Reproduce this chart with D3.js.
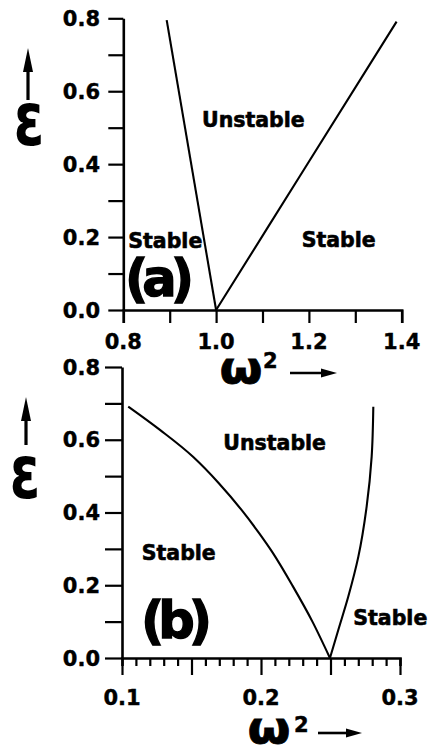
<!DOCTYPE html>
<html>
<head>
<meta charset="utf-8">
<script src="https://cdn.jsdelivr.net/npm/d3@7"></script>
<style>
  html, body { margin: 0; padding: 0; background: #fff; }
  svg { display: block; }
  text { font-family: "DejaVu Sans", sans-serif; font-weight: bold; fill: #000; }
</style>
</head>
<body>
<svg id="chart" width="431" height="752"></svg>
<script>
// ---- data ----
// Panel (a): transition curves in the (omega^2, epsilon) plane
const aLeftBoundary  = [[0.8935, 0.795], [1.0, 0.0]];
const aRightBoundary = [[1.0, 0.0], [1.18, 0.366], [1.389, 0.791]];
// Panel (b)
const bLeftBoundary  = [[0.1045, 0.691], [0.1273, 0.627], [0.1511, 0.553], [0.1695, 0.481],
                        [0.1860, 0.407], [0.1985, 0.344], [0.2085, 0.289], [0.2225, 0.200],
                        [0.2370, 0.100], [0.2496, 0.0]];
const bRightBoundary = [[0.2496, 0.0], [0.2556, 0.077], [0.2628, 0.169], [0.2700, 0.278],
                        [0.2760, 0.416], [0.2796, 0.553], [0.2808, 0.691]];

const epsTicks      = [0, 0.1, 0.2, 0.3, 0.4, 0.5, 0.6, 0.7, 0.8];
const epsTickLabels = [0, 0.2, 0.4, 0.6, 0.8];
const aXTicks       = [0.8, 0.9, 1.0, 1.1, 1.2, 1.3, 1.4];
const aXTickLabels  = [0.8, 1.0, 1.2, 1.4];
const bXTicks       = d3.range(0, 21).map(i => +(0.1 + i * 0.01).toFixed(2));
const bXMajorTicks  = [0.1, 0.15, 0.2, 0.25, 0.3];
const bXTickLabels  = [0.1, 0.2, 0.3];

const regionLabels = {
  a: [{ t: "Unstable", x: 0.9696, y: 0.503 }, { t: "Stable", x: 0.8108, y: 0.17 }, { t: "Stable", x: 1.1845, y: 0.173 }],
  b: [{ t: "Unstable", x: 0.1729, y: 0.572 }, { t: "Stable", x: 0.1142, y: 0.269 }, { t: "Stable", x: 0.2664, y: 0.091 }]
};

const svg = d3.select("#chart");
const fmt = d3.format(".1f");

function arrowUp(x, yTip, yBottom) {
  svg.append("line").attr("x1", x).attr("x2", x).attr("y1", yTip + 20).attr("y2", yBottom)
    .attr("stroke", "#000").attr("stroke-width", 3.2);
  svg.append("path").attr("d", `M${x},${yTip} L${x - 5},${yTip + 24} L${x + 5},${yTip + 24} Z`).attr("fill", "#000");
}
function arrowRight(x0, xTip, y) {
  svg.append("line").attr("x1", x0).attr("x2", xTip - 12).attr("y1", y).attr("y2", y)
    .attr("stroke", "#000").attr("stroke-width", 2.6);
  svg.append("path").attr("d", `M${xTip},${y} L${xTip - 16},${y - 4.5} L${xTip - 16},${y + 4.5} Z`).attr("fill", "#000");
}

function panel(cfg) {
  const g = svg.append("g");
  const x = d3.scaleLinear().domain(cfg.xDomain).range(cfg.xRange);
  const y = d3.scaleLinear().domain([0, 0.8]).range(cfg.yRange);

  // epsilon axis
  const yAxis = d3.axisLeft(y).tickValues(epsTicks).tickSize(cfg.yTickLen).tickFormat("").tickSizeOuter(0);
  g.append("g").attr("transform", `translate(${cfg.xRange[0]},0)`).call(yAxis)
    .call(s => s.select(".domain").attr("stroke-width", 2.6))
    .call(s => s.selectAll(".tick line").attr("stroke-width", 2.2));
  g.selectAll(".ylab").data(epsTickLabels).join("text")
    .attr("x", 100).attr("y", d => y(d)).attr("dy", "0.36em")
    .attr("text-anchor", "end").style("font-size", "21px")
    .attr("stroke", "#000").attr("stroke-width", 0.4).text(fmt);

  // omega^2 axis
  const xAxis = d3.axisBottom(x).tickValues(cfg.xTicks).tickFormat("").tickSizeOuter(0)
    .tickSize(cfg.xTickLen);
  const xg = g.append("g").attr("transform", `translate(0,${cfg.yRange[0]})`).call(xAxis)
    .call(s => s.select(".domain").attr("stroke-width", 2.6))
    .call(s => s.selectAll(".tick line").attr("stroke-width", 2.2));
  if (cfg.xMajor) {
    xg.selectAll(".tick line").attr("y2", d => cfg.xMajor.some(m => Math.abs(m - d) < 1e-6) ? 17 : 8);
  }
  g.selectAll(".xlab").data(cfg.xLabels).join("text")
    .attr("x", d => x(d)).attr("y", cfg.xLabelBaseline)
    .attr("text-anchor", "middle").style("font-size", "21px")
    .attr("stroke", "#000").attr("stroke-width", 0.4).text(fmt);

  // transition curves
  cfg.curves.forEach(c => {
    const line = d3.line().x(d => x(d[0])).y(d => y(d[1])).curve(c.curve);
    g.append("path").attr("d", line(c.data)).attr("fill", "none")
      .attr("stroke", "#000").attr("stroke-width", 2.1);
  });

  // region labels
  g.selectAll(".region").data(cfg.regions).join("text")
    .attr("x", d => x(d.x)).attr("y", d => y(d.y))
    .style("font-size", "20.5px").attr("stroke", "#000").attr("stroke-width", 0.6)
    .text(d => d.t);

  // panel tag
  g.append("text").attr("x", cfg.tag.x).attr("y", cfg.tag.y)
    .style("font-size", "51px").style("letter-spacing", "-6px")
    .attr("stroke", "#000").attr("stroke-width", 1.4).text(cfg.tag.t);

  // epsilon label with arrow
  g.append("text").attr("transform", `translate(${cfg.eps.x},${cfg.eps.y}) scale(0.74,1)`)
    .attr("text-anchor", "middle").style("font-size", "74px").text("ε");
  arrowUp(cfg.eps.ax, cfg.eps.tip, cfg.eps.bottom);

  // omega^2 label with arrow
  g.append("text").attr("transform", `translate(${cfg.om.x},${cfg.om.y}) scale(1.1,1)`)
    .attr("text-anchor", "middle").style("font-size", "45px")
    .attr("stroke", "#000").attr("stroke-width", 0.8).text("ω");
  g.append("text").attr("x", cfg.om.sx).attr("y", cfg.om.sy).style("font-size", "21px")
    .attr("stroke", "#000").attr("stroke-width", 0.5).text("2");
  arrowRight(cfg.om.a0, cfg.om.a1, cfg.om.ay);
}

panel({
  xDomain: [0.8, 1.4], xRange: [123.3, 401.7], yRange: [310, 18.3],
  yTickLen: 15, xTicks: aXTicks, xTickLen: 13, xLabels: aXTickLabels, xLabelBaseline: 349,
  curves: [{ data: aLeftBoundary, curve: d3.curveLinear }, { data: aRightBoundary, curve: d3.curveMonotoneY }],
  regions: regionLabels.a,
  tag: { t: "(a)", x: 125, y: 296 },
  eps: { x: 29, y: 145, ax: 28, tip: 48, bottom: 100 },
  om: { x: 241, y: 383, sx: 263, sy: 368, a0: 290, a1: 337, ay: 373 }
});

panel({
  xDomain: [0.1, 0.3], xRange: [122, 400], yRange: [658, 367],
  yTickLen: 17, xTicks: bXTicks, xMajor: bXMajorTicks, xTickLen: 8, xLabels: bXTickLabels, xLabelBaseline: 705,
  curves: [{ data: bLeftBoundary, curve: d3.curveMonotoneX }, { data: bRightBoundary, curve: d3.curveMonotoneY }],
  regions: regionLabels.b,
  tag: { t: "(b)", x: 141, y: 638 },
  eps: { x: 25, y: 498, ax: 26, tip: 397, bottom: 445 },
  om: { x: 269, y: 743, sx: 294, sy: 732, a0: 318, a1: 362, ay: 733 }
});
</script>
</body>
</html>
